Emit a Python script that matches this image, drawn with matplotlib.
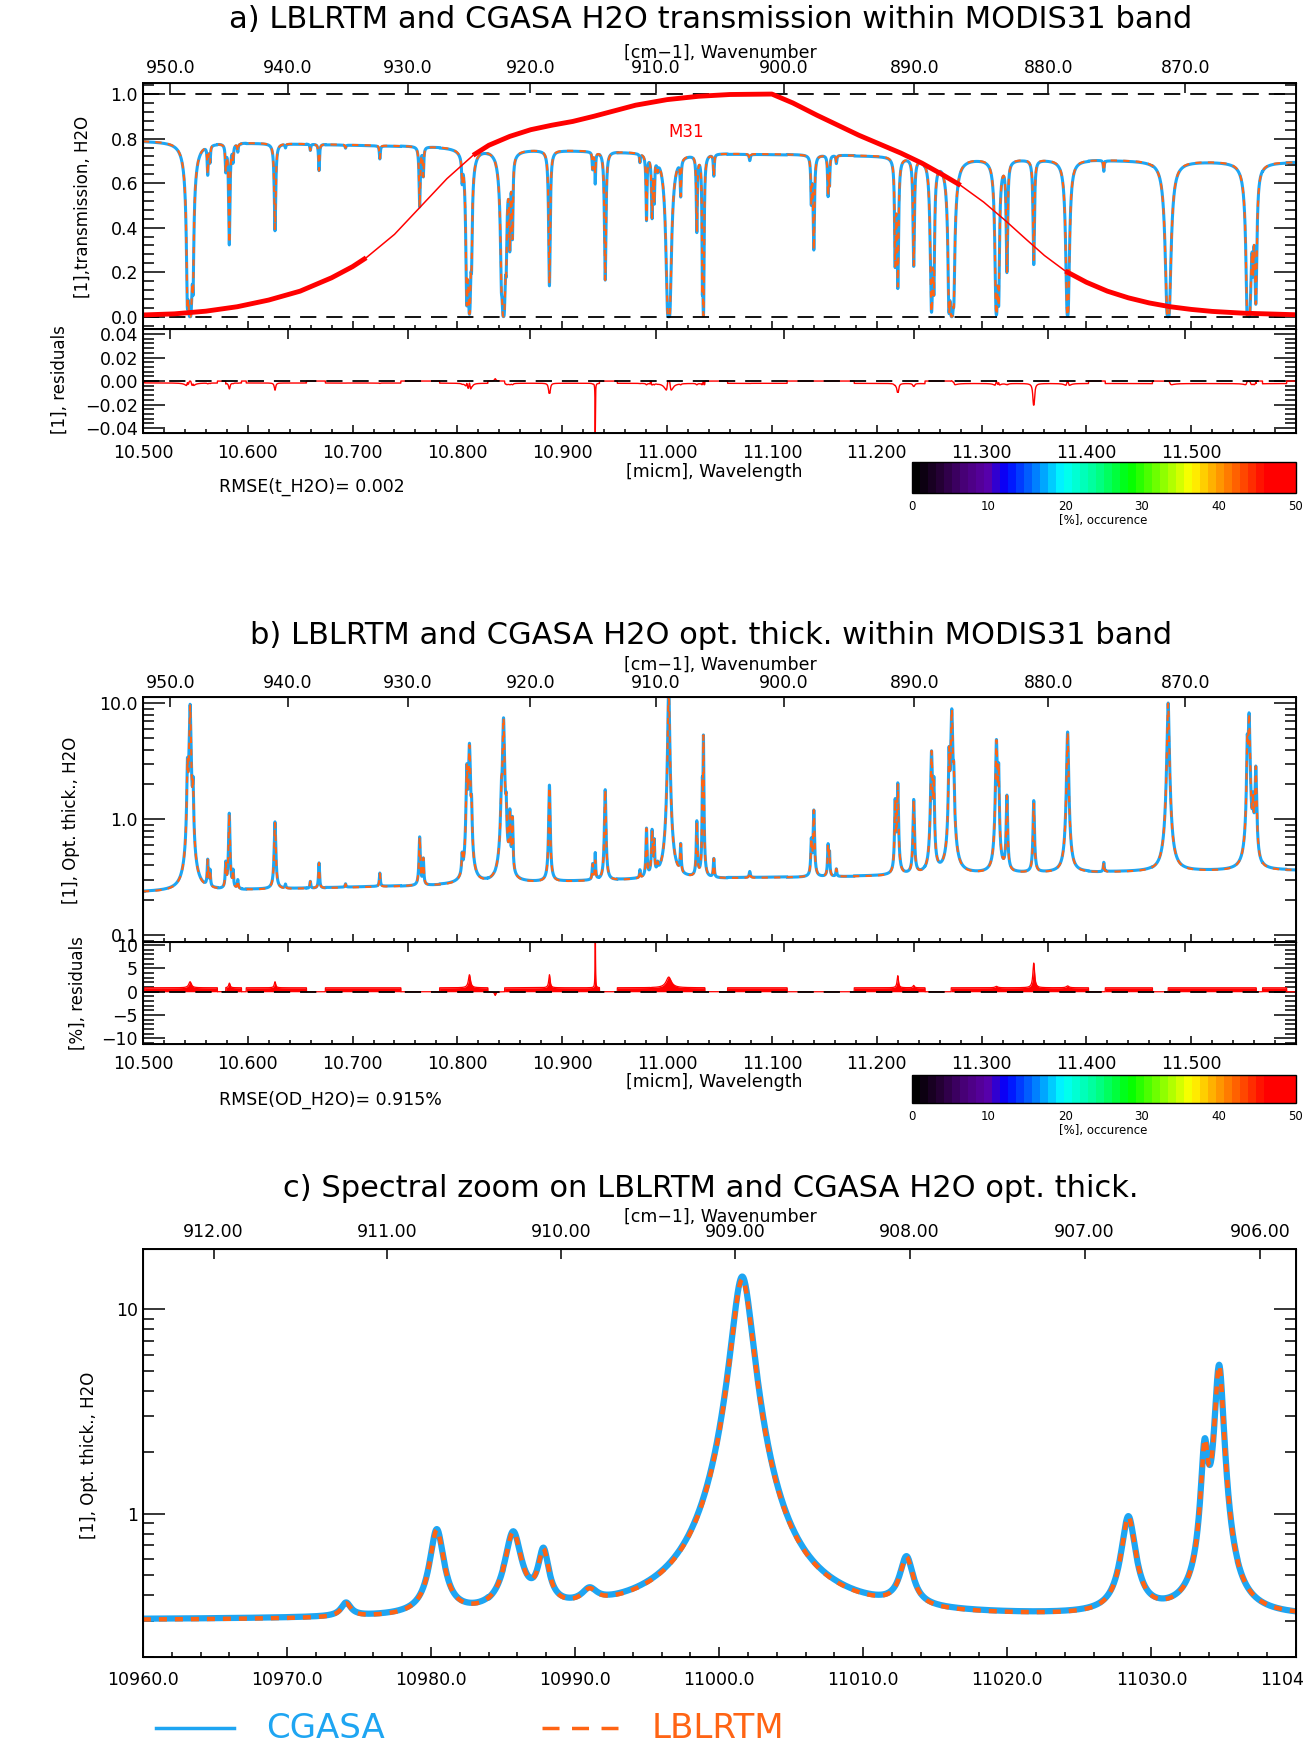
import numpy as np
import matplotlib
matplotlib.use("Agg")
import matplotlib.pyplot as plt
from matplotlib.colors import LinearSegmentedColormap, Normalize
from matplotlib.cm import ScalarMappable
from matplotlib.lines import Line2D
from matplotlib.ticker import MultipleLocator, FixedLocator, FuncFormatter, LogLocator, NullFormatter

W, H = 1303, 1760
BLUE = "#1ea5f2"
ORANGE = "#ff6414"

# H2O lines read off panels b) and c): centre [micm], peak opt. thick., half width [nm]
line_center = [10.5425, 10.5450, 10.5478, 10.5618, 10.5640, 10.5790, 10.5824, 10.5860, 10.5905,
               10.6260, 10.6360, 10.6597, 10.6680, 10.6933, 10.7260, 10.7640, 10.7675,
               10.8045, 10.8090, 10.8115, 10.8135, 10.8420, 10.8440, 10.8465, 10.8500, 10.8525,
               10.8878, 10.9290, 10.9315, 10.9410, 10.9741, 10.9804, 10.9857, 10.9878, 10.9910,
               11.0016, 11.0130, 11.0284, 11.0337, 11.0347, 11.0446, 11.0789, 11.1376, 11.1400,
               11.1536, 11.1550, 11.1615, 11.2176, 11.2201, 11.2353, 11.2523, 11.2545, 11.2690,
               11.2716, 11.2735, 11.3142, 11.3163, 11.3242, 11.3498, 11.3821, 11.4166, 11.4780,
               11.5535, 11.5552, 11.5590, 11.5616]
line_peak = [2.5, 9.5, 1.6, 0.42, 0.34, 0.40, 1.10, 0.34, 0.29,
             0.93, 0.27, 0.29, 0.42, 0.275, 0.34, 0.70, 0.45,
             0.42, 2.6, 4.2, 1.0, 1.25, 7.4, 1.0, 1.05, 0.95,
             1.9, 0.40, 0.43, 1.8, 0.35, 0.81, 0.77, 0.60, 0.36,
             14.0, 0.56, 0.94, 1.9, 5.2, 0.45, 0.35, 0.64, 1.19,
             0.60, 0.50, 0.37, 1.4, 1.95, 1.45, 3.8, 2.0, 3.5,
             8.7, 1.8, 4.7, 2.6, 1.57, 1.36, 5.6, 0.42, 10.0,
             4.0, 7.9, 1.2, 2.7]
line_hw = [0.5, 0.8, 0.5, 0.5, 0.5, 0.5, 0.6, 0.5, 0.5,
           0.7, 0.5, 0.5, 0.5, 0.5, 0.5, 0.6, 0.5,
           0.5, 0.6, 0.8, 0.5, 0.6, 0.8, 0.5, 0.5, 0.5,
           0.6, 0.5, 0.5, 0.6, 0.4, 0.5, 0.6, 0.4, 0.6,
           0.7, 0.5, 0.5, 0.25, 0.3, 0.5, 0.6, 0.5, 0.6,
           0.5, 0.4, 0.5, 0.5, 0.6, 0.6, 0.7, 0.5, 0.5,
           0.8, 0.5, 0.7, 0.5, 0.6, 0.6, 0.8, 0.5, 0.9,
           0.5, 0.8, 0.5, 0.7]

# continuum opt. thick. between the lines
cont_wl = [10.50, 10.60, 10.70, 10.80, 10.90, 11.00, 11.10, 11.20, 11.30, 11.40, 11.50, 11.60]
cont_od = [0.235, 0.245, 0.258, 0.270, 0.288, 0.303, 0.313, 0.322, 0.336, 0.346, 0.355, 0.362]

# CGASA vs LBLRTM relative residual [%]: plateaus and peaks
res_seg_start = [10.5016, 10.579, 10.5985, 10.674, 10.783, 10.845, 10.9525, 10.985,
                 11.0577, 11.1785, 11.271, 11.418, 11.478, 11.568]
res_seg_end = [10.571, 10.594, 10.656, 10.746, 10.829, 10.9355, 10.984, 11.036,
               11.1145, 11.246, 11.402, 11.463, 11.562, 11.591]
res_seg_level = 0.85
res_peak_center = [10.545, 10.5825, 10.626, 10.8115, 10.836, 10.8878, 10.9315, 11.0016,
                   11.2201, 11.2353, 11.3142, 11.3498, 11.3821]
res_peak_value = [1.3, 1.0, 1.3, 2.8, -0.8, 2.8, 16.0, 2.3, 2.6, 0.5, 0.3, 5.3, 0.4]
res_peak_hw = [1.5, 0.8, 0.8, 1.2, 0.8, 0.8, 0.2, 3.0, 0.8, 0.8, 1.5, 1.0, 1.5]

# MODIS band 31 spectral response
srf_wl = [10.50, 10.53, 10.56, 10.59, 10.62, 10.65, 10.68, 10.70, 10.713,
          10.74, 10.77, 10.79, 10.815,
          10.83, 10.85, 10.87, 10.89, 10.91, 10.93, 10.95, 10.97, 11.00, 11.03, 11.06, 11.10,
          11.12, 11.143, 11.163, 11.183, 11.203, 11.223, 11.243, 11.262, 11.28,
          11.302, 11.322, 11.342, 11.36, 11.38,
          11.40, 11.42, 11.44, 11.46, 11.48, 11.50, 11.52, 11.55, 11.60]
srf_val = [0.008, 0.013, 0.025, 0.045, 0.075, 0.115, 0.175, 0.225, 0.265,
           0.37, 0.52, 0.62, 0.725,
           0.77, 0.81, 0.84, 0.86, 0.877, 0.90, 0.925, 0.95, 0.975, 0.99, 0.998, 1.0,
           0.96, 0.905, 0.86, 0.815, 0.775, 0.735, 0.69, 0.64, 0.59,
           0.515, 0.435, 0.35, 0.275, 0.205,
           0.155, 0.115, 0.085, 0.062, 0.045, 0.033, 0.024, 0.016, 0.009]
srf_thin = [(10.713, 10.815), (11.28, 11.38)]

wn_ticks_ab = [950, 940, 930, 920, 910, 900, 890, 880, 870]
wn_ticks_c = [912, 911, 910, 909, 908, 907, 906]
occ_ticks = [0, 10, 20, 30, 40, 50]
rmse_t = 0.002
rmse_od = 0.915


def spectrum(wl):
    od = np.interp(wl, cont_wl, cont_od)
    for c, p, hw in zip(line_center, line_peak, line_hw):
        g = hw * 1e-3
        amp = p - np.interp(c, cont_wl, cont_od)
        od = od + amp * g ** 2 / (g ** 2 + (wl - c) ** 2)
    return od


def residual(wl):
    r = np.zeros_like(wl)
    for s, e in zip(res_seg_start, res_seg_end):
        r[(wl >= s) & (wl <= e)] = res_seg_level
    for c, v, hw in zip(res_peak_center, res_peak_value, res_peak_hw):
        g = hw * 1e-3
        r = r + v * g ** 2 / (g ** 2 + (wl - c) ** 2)
    return r


wl = np.arange(10.5, 11.6, 0.00002)
od_lbl = spectrum(wl)
res = residual(wl)
od_cga = od_lbl * (1 + res / 100.0)
t_lbl = np.exp(-od_lbl)
t_cga = np.exp(-od_cga)
res_t = t_cga - t_lbl

wl_c = np.arange(10960.0, 11040.01, 0.02)
od_lbl_c = spectrum(wl_c / 1000.0)
od_cga_c = od_lbl_c * (1 + residual(wl_c / 1000.0) / 100.0)

plt.rcParams["font.family"] = "DejaVu Sans"
TICK_FS = 12.5
minus = lambda fmt: FuncFormatter(lambda v, p: (fmt % v).replace("-", "\u2212"))

fig = plt.figure(figsize=(W / 100, H / 100), dpi=100)
XR = (10.5, 11.5995)


def box(top, bottom, left=142.9, right=1295.5):
    return [left / W, 1 - bottom / H, (right - left) / W, (bottom - top) / H]


def style(ax, ylen=16, xlen=6):
    ax.tick_params(which="both", direction="in", top=False, right=True, labelsize=TICK_FS, width=1.1)
    ax.tick_params(axis="y", which="major", length=ylen)
    ax.tick_params(axis="y", which="minor", length=ylen / 2)
    ax.tick_params(axis="x", which="major", length=xlen)
    ax.tick_params(axis="x", which="minor", length=xlen / 2)
    for s in ax.spines.values():
        s.set_linewidth(1.4)


def wavenumber_axis(ax, wn, fmt, labels=True, pad=4, scale=1e4):
    top = ax.twiny()
    top.set_xlim(ax.get_xlim())
    top.xaxis.set_major_locator(FixedLocator([scale / v for v in wn]))
    top.xaxis.set_minor_locator(FixedLocator([]))
    top.set_xticklabels([fmt % v for v in wn] if labels else [])
    top.tick_params(axis="x", direction="in", length=7, width=1.1, labelsize=TICK_FS, pad=pad)
    return top


occ_cmap = LinearSegmentedColormap.from_list(
    "occ", [(0.0, "#000000"), (0.06, "#220030"), (0.13, "#480078"), (0.19, "#5a00a8"),
            (0.24, "#0000ff"), (0.31, "#0070ff"), (0.39, "#00ffff"), (0.48, "#00ff90"),
            (0.57, "#00ff00"), (0.66, "#90ff00"), (0.73, "#ffff00"), (0.80, "#ffa000"),
            (0.87, "#ff4a00"), (0.93, "#ff0000"), (1.0, "#ff0000")], N=48)


def colorbar(top, bottom):
    cax = fig.add_axes(box(top, bottom, 911.5, 1295.6))
    cb = fig.colorbar(ScalarMappable(Normalize(0, 50), occ_cmap), cax=cax, orientation="horizontal")
    cb.set_ticks(occ_ticks)
    cb.ax.tick_params(length=0, labelsize=8.5, pad=5)
    cb.set_label("[%], occurence", fontsize=8.5, labelpad=1)
    cb.outline.set_linewidth(1.0)


dash_k = (0, (9, 5.5))

# ---------------- panel a ----------------
ax_a = fig.add_axes(box(82.7, 329))
ax_a.plot(wl, t_cga, color=BLUE, lw=2.2)
ax_a.plot(wl, t_lbl, color=ORANGE, lw=1.5, ls=(0, (3, 3)))
ax_a.axhline(1.0, color="k", lw=1.3, ls=dash_k)
ax_a.axhline(0.0, color="k", lw=1.3, ls=dash_k)
srf_wl_a = np.array(srf_wl)
srf_thick = np.array(srf_val, dtype=float)
for lo, hi in srf_thin:
    srf_thick[(srf_wl_a > lo) & (srf_wl_a < hi)] = np.nan
ax_a.plot(srf_wl, srf_val, color="red", lw=1.1)
ax_a.plot(srf_wl, srf_thick, color="red", lw=3.5, solid_capstyle="butt")
ax_a.text(11.018, 0.83, "M31", color="red", fontsize=12, ha="center", va="center")
ax_a.set_xlim(*XR)
ax_a.set_ylim(-0.055, 1.051)
ax_a.yaxis.set_major_locator(MultipleLocator(0.2))
ax_a.yaxis.set_minor_locator(MultipleLocator(0.04))
ax_a.yaxis.set_major_formatter(minus("%.1f"))
ax_a.xaxis.set_major_locator(MultipleLocator(0.1))
ax_a.xaxis.set_minor_locator(MultipleLocator(0.02))
style(ax_a)
ax_a.tick_params(axis="x", labelbottom=False)
wavenumber_axis(ax_a, wn_ticks_ab, "%.1f")

ax_ar = fig.add_axes(box(329, 433.3))
ax_ar.plot(wl, res_t, color="red", lw=1.0)
ax_ar.axhline(0.0, color="k", lw=1.3, ls=dash_k)
ax_ar.set_xlim(*XR)
ax_ar.set_ylim(-0.0445, 0.0443)
ax_ar.yaxis.set_major_locator(MultipleLocator(0.02))
ax_ar.yaxis.set_minor_locator(MultipleLocator(0.004))
ax_ar.yaxis.set_major_formatter(minus("%.2f"))
ax_ar.xaxis.set_major_locator(MultipleLocator(0.1))
ax_ar.xaxis.set_minor_locator(MultipleLocator(0.02))
ax_ar.xaxis.set_major_formatter(minus("%.3f"))
style(ax_ar)
ax_ar.tick_params(axis="x", pad=8)
wavenumber_axis(ax_ar, wn_ticks_ab, "%.1f", labels=False)

fig.text(711 / W, 1 - 20 / H, "a) LBLRTM and CGASA H2O transmission within MODIS31 band",
         ha="center", va="center", fontsize=22)
fig.text(720 / W, 1 - 52.7 / H, "[cm\u22121], Wavenumber", ha="center", va="center", fontsize=12.5)
fig.text(82.6 / W, 1 - 207 / H, "[1],transmission, H2O", rotation=90, ha="center", va="center", fontsize=12)
fig.text(60 / W, 1 - 380 / H, "[1], residuals", rotation=90, ha="center", va="center", fontsize=12)
fig.text(714 / W, 1 - 472 / H, "[micm], Wavelength", ha="center", va="center", fontsize=12.5)
fig.text(219 / W, 1 - 487 / H, "RMSE(t_H2O)= %.3f" % rmse_t, ha="left", va="center", fontsize=12.5)
colorbar(461.7, 492.7)

# ---------------- panel b ----------------
ax_b = fig.add_axes(box(697.3, 942.3))
ax_b.plot(wl, od_cga, color=BLUE, lw=2.2)
ax_b.plot(wl, od_lbl, color=ORANGE, lw=1.5, ls=(0, (3, 3)))
ax_b.set_yscale("log")
ax_b.set_xlim(*XR)
ax_b.set_ylim(0.087, 11.3)
ax_b.yaxis.set_major_locator(FixedLocator([0.1, 1.0, 10.0]))
ax_b.yaxis.set_minor_locator(LogLocator(subs=np.arange(2, 10)))
ax_b.yaxis.set_major_formatter(minus("%.1f"))
ax_b.yaxis.set_minor_formatter(NullFormatter())
ax_b.xaxis.set_major_locator(MultipleLocator(0.1))
ax_b.xaxis.set_minor_locator(MultipleLocator(0.02))
style(ax_b)
ax_b.tick_params(axis="x", labelbottom=False)
wavenumber_axis(ax_b, wn_ticks_ab, "%.1f")

ax_br = fig.add_axes(box(942.3, 1044))
ax_br.fill_between(wl, 0, res, color="red", lw=0)
ax_br.plot(wl, res, color="red", lw=0.9)
ax_br.axhline(0.0, color="k", lw=1.3, ls=dash_k)
ax_br.set_xlim(*XR)
ax_br.set_ylim(-11.2, 10.6)
ax_br.yaxis.set_major_locator(MultipleLocator(5))
ax_br.yaxis.set_minor_locator(MultipleLocator(1))
ax_br.yaxis.set_major_formatter(minus("%d"))
ax_br.xaxis.set_major_locator(MultipleLocator(0.1))
ax_br.xaxis.set_minor_locator(MultipleLocator(0.02))
ax_br.xaxis.set_major_formatter(minus("%.3f"))
style(ax_br)
ax_br.tick_params(axis="x", pad=8)
wavenumber_axis(ax_br, wn_ticks_ab, "%.1f", labels=False)

fig.text(711 / W, 1 - 635 / H, "b) LBLRTM and CGASA H2O opt. thick. within MODIS31 band",
         ha="center", va="center", fontsize=22)
fig.text(720 / W, 1 - 665 / H, "[cm\u22121], Wavenumber", ha="center", va="center", fontsize=12.5)
fig.text(71.4 / W, 1 - 820 / H, "[1], Opt. thick., H2O", rotation=90, ha="center", va="center", fontsize=12)
fig.text(78 / W, 1 - 993 / H, "[%], residuals", rotation=90, ha="center", va="center", fontsize=12)
fig.text(714 / W, 1 - 1082 / H, "[micm], Wavelength", ha="center", va="center", fontsize=12.5)
fig.text(219 / W, 1 - 1100 / H, "RMSE(OD_H2O)= %.3f%%" % rmse_od, ha="left", va="center", fontsize=12.5)
colorbar(1075, 1103)

# ---------------- panel c ----------------
ax_c = fig.add_axes(box(1249, 1656.7))
ax_c.plot(wl_c, od_cga_c, color=BLUE, lw=4.5)
ax_c.plot(wl_c, od_lbl_c, color=ORANGE, lw=3.2, ls=(0, (1.8, 1.8)))
ax_c.set_yscale("log")
ax_c.set_xlim(10960, 11040)
ax_c.set_ylim(0.2, 19.7)
ax_c.yaxis.set_major_locator(FixedLocator([1.0, 10.0]))
ax_c.yaxis.set_minor_locator(LogLocator(subs=np.arange(2, 10)))
ax_c.yaxis.set_major_formatter(FuncFormatter(lambda v, p: "%d" % v))
ax_c.yaxis.set_minor_formatter(NullFormatter())
ax_c.xaxis.set_major_locator(MultipleLocator(10))
ax_c.xaxis.set_minor_locator(MultipleLocator(2))
ax_c.xaxis.set_major_formatter(FuncFormatter(lambda v, p: "%.1f" % v))
style(ax_c, xlen=7)
ax_c.tick_params(axis="x", pad=10)
wavenumber_axis(ax_c, wn_ticks_c, "%.2f", pad=6, scale=1e7)

fig.text(711 / W, 1 - 1188.7 / H, "c) Spectral zoom on LBLRTM and CGASA H2O opt. thick.",
         ha="center", va="center", fontsize=22)
fig.text(720 / W, 1 - 1217 / H, "[cm\u22121], Wavenumber", ha="center", va="center", fontsize=12.5)
fig.text(89 / W, 1 - 1455 / H, "[1], Opt. thick., H2O", rotation=90, ha="center", va="center", fontsize=12)

# legend
ly = 1 - 1728 / H
fig.add_artist(Line2D([156 / W, 234 / W], [ly, ly], color=BLUE, lw=2.5, transform=fig.transFigure))
fig.text(266 / W, ly, "CGASA", color=BLUE, fontsize=24.5, ha="left", va="center")
fig.add_artist(Line2D([542 / W, 618 / W], [ly, ly], color=ORANGE, lw=2.5, ls=(0, (4.9, 3.6)),
                      transform=fig.transFigure))
fig.text(652 / W, ly, "LBLRTM", color=ORANGE, fontsize=24.5, ha="left", va="center")

fig.savefig("out.png", dpi=100)
